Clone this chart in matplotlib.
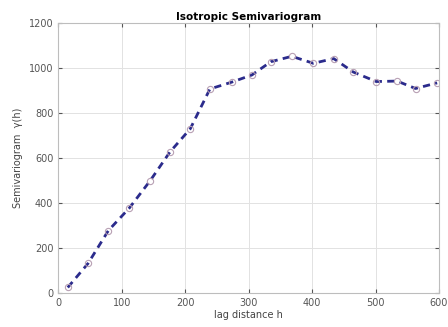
import numpy as np
import matplotlib.pyplot as plt

# semivariogramme experimental (pas ~32.5)
lag = [15, 47, 79, 112, 145, 176, 208, 239, 273, 305, 335, 368, 402, 434, 465, 501, 534, 563, 597]
gamma = [23, 130, 276, 376, 498, 625, 728, 905, 935, 967, 1026, 1050, 1019, 1040, 980, 938, 940, 907, 932]

x_ticks = [0, 100, 200, 300, 400, 500, 600]
y_ticks = [0, 200, 400, 600, 800, 1000, 1200]

fig = plt.figure(figsize=(4.48, 3.27), dpi=100)
ax = fig.add_axes([0.130, 0.105, 0.850, 0.826])

ax.plot(lag, gamma, linestyle='--', color='#2b2b8c', linewidth=2.0,
        dashes=(2.6, 1.9), marker='o', markersize=4.5,
        markerfacecolor='none', markeredgecolor='#b8a0b4', markeredgewidth=0.8)

ax.set_xlim(0, 600)
ax.set_ylim(0, 1200)
ax.set_xticks(x_ticks)
ax.set_yticks(y_ticks)
ax.grid(True, color='#e2e2e2', linewidth=0.7)
ax.tick_params(direction='in', length=3, labelsize=7, colors='#555555',
               top=True, right=True)
for s in ax.spines.values():
    s.set_color('#bdbdbd')
    s.set_linewidth(0.8)

ax.set_title("Isotropic Semivariogram", fontsize=7.5, fontweight='bold', pad=2)
ax.set_xlabel("lag distance h", fontsize=7, color='#444444', labelpad=2)
ax.set_ylabel("Semivariogram  \u03b3(h)", fontsize=7, color='#444444', labelpad=4)

plt.savefig("out.png", dpi=100)
